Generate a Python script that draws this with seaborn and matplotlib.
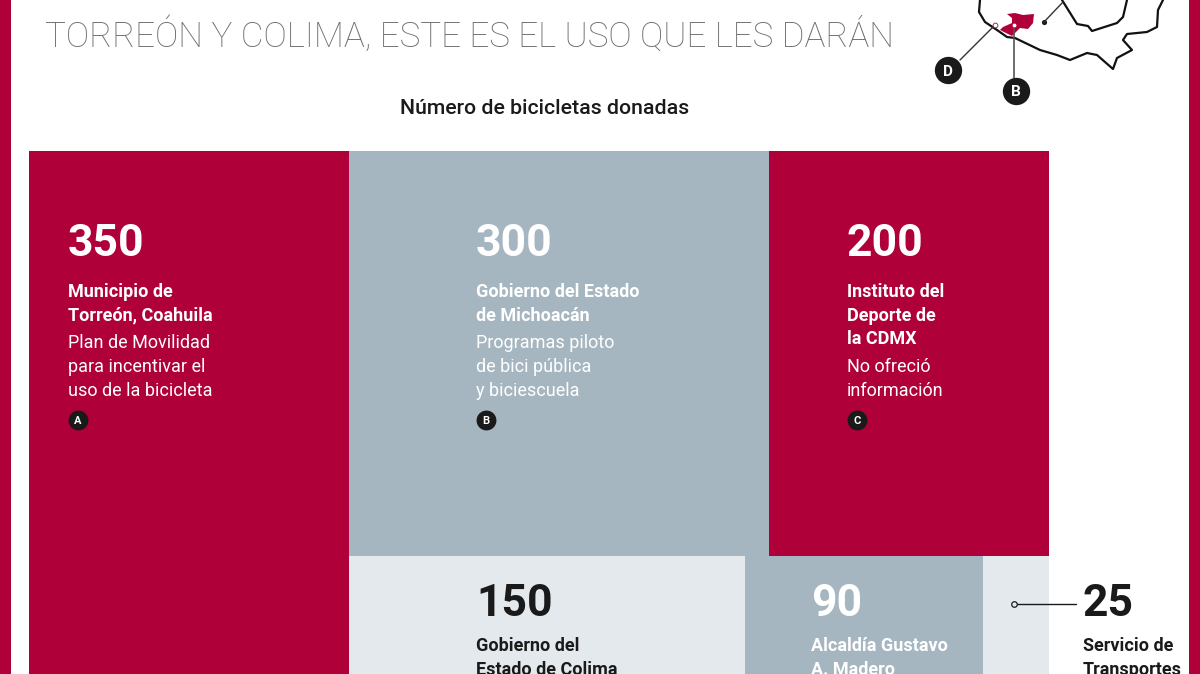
"""Bicicletas donadas: treemap recortado, con mapa de referencia."""

import matplotlib
matplotlib.use("Agg")
import matplotlib.pyplot as plt
import seaborn as sns

# datos
values = [350, 300, 200, 150, 90, 25]
bold_lines = [
    ["Municipio de", "Torreón, Coahuila"],
    ["Gobierno del Estado", "de Michoacán"],
    ["Instituto del", "Deporte de", "la CDMX"],
    ["Gobierno del", "Estado de Colima"],
    ["Alcaldía Gustavo", "A. Madero"],
    ["Servicio de", "Transportes"],
]
note_lines = [
    ["Plan de Movilidad", "para incentivar el", "uso de la bicicleta"],
    ["Programas piloto", "de bici pública", "y biciescuela"],
    ["No ofreció", "información"],
    [],
    [],
    [],
]
badges = ["A", "B", "C", None, None, None]
title_text = "TORREÓN Y COLIMA, ESTE ES EL USO QUE LES DARÁN"
subtitle_text = "Número de bicicletas donadas"

# estilo
CRIMSON = "#B0003A"
STEEL = "#A5B6C1"
PALE = "#E3E9ED"
DARK = "#1A1A1A"
cell_colors = [CRIMSON, STEEL, CRIMSON, PALE, STEEL, PALE]
text_colors = ["white", "white", "white", DARK, "white", DARK]
text_x = [68, 476, 847, 476, 811, 1083]

# marco del treemap en pixeles (sigue por debajo del recorte)
MAP_X, MAP_Y, MAP_W, MAP_H = 29, 151, 1020, 620

# mapa, trazado a mano en pixeles de la imagen
coast_x = [980, 979, 985, 997, 1007, 1015, 1040, 1057, 1070, 1087, 1097, 1113, 1117, 1132, 1123, 1127, 1147, 1157, 1158, 1163]
coast_y = [0, 12, 22, 30, 37, 38, 50, 55, 60, 53, 55, 69, 58, 50, 40, 34, 32, 27, 10, 0]
border_x = [1062, 1077, 1088, 1092, 1117, 1123, 1127]
border_y = [0, 24, 26, 31, 23, 17, 0]
state_x = [1007, 1015, 1023, 1034, 1033, 1028, 1020, 1015, 1012, 1000, 1003, 1012, 1012]
state_y = [14, 13, 15, 14, 23, 29, 28, 33, 36, 30, 27, 23, 18]


def treemap_cells(vals):
    """Columna izquierda con el mayor; dos filas con el resto."""
    total = sum(vals)
    left_w = MAP_W * vals[0] / total
    rest = total - vals[0]
    cells = [(MAP_X, MAP_Y, left_w, MAP_H)]
    row_y = MAP_Y
    for row in (vals[1:3], vals[3:]):
        row_h = MAP_H * sum(row) / rest
        x = MAP_X + left_w
        for v in row:
            w = (MAP_W - left_w) * v / sum(row)
            cells.append((x, row_y, w, row_h))
            x += w
        row_y += row_h
    return cells


def draw_badge(ax, x, y, letter, size=9):
    ax.scatter([x], [y], s=size ** 2 * 3.2, color=DARK, zorder=5, linewidths=0)
    ax.text(x, y, letter, color="white", fontsize=size, fontweight="bold",
            ha="center", va="center_baseline", zorder=6)


sns.set_theme(style="white")
plt.rcParams["font.family"] = ["Roboto", "DejaVu Sans"]

fig, ax = plt.subplots(figsize=(12, 6.74), dpi=100)
fig.subplots_adjust(left=0, right=1, bottom=0, top=1)
ax.set_xlim(0, 1200)
ax.set_ylim(674, 0)
ax.axis("off")

# bandas laterales
ax.axvspan(0, 11, color=CRIMSON, lw=0)
ax.axvspan(1189, 1200, color=CRIMSON, lw=0)

# celdas
cells = treemap_cells(values)
for (x, y, w, h), c in zip(cells, cell_colors):
    ax.bar(x, h, width=w, bottom=y, align="edge", color=c, linewidth=0)

# textos de cada celda
for i, v in enumerate(values):
    upper = i < 3
    color = text_colors[i]
    x = text_x[i]
    ax.text(x, 240 if upper else 600, str(v), color=color, fontsize=32, fontweight="bold",
            ha="left", va="center_baseline")
    y = 290 if upper else 644
    for line in bold_lines[i]:
        ax.text(x, y, line, color=color, fontsize=13, fontweight="bold",
                ha="left", va="center_baseline")
        y += 23.7
    y += 3.8
    for line in note_lines[i]:
        ax.text(x, y, line, color=color, fontsize=13, ha="left", va="center_baseline")
        y += 23.7
    if badges[i]:
        draw_badge(ax, x + 10, 420, badges[i], size=8)

# guia del 25
ax.plot([1014, 1076], [604, 604], color=DARK, lw=1, zorder=4)
ax.scatter([1014], [604], s=16, facecolor=PALE, edgecolor=DARK, linewidths=0.9, zorder=5)

# titulos
ax.text(45, 32, title_text, color="#6E6E6E", fontsize=25.2, fontweight="light",
        ha="left", va="center_baseline")
ax.text(545, 107, subtitle_text, color=DARK, fontsize=15.3, fontweight="medium",
        ha="center", va="center_baseline")

# mapa
ax.plot(coast_x, coast_y, color="#111111", lw=1.6, solid_joinstyle="round")
ax.plot(border_x, border_y, color="#111111", lw=1.6, solid_joinstyle="round")
ax.fill(state_x, state_y, color=CRIMSON, lw=0, zorder=3)
ax.plot([1044, 1063], [22, 2], color="#333333", lw=1)
ax.scatter([1044], [22], s=14, color=DARK, linewidths=0)
ax.plot([995, 960], [25, 60], color="#333333", lw=1, zorder=4)
ax.plot([1014, 1014], [25, 78], color="#555555", lw=1.2, zorder=4)
ax.scatter([995, 1014], [25, 25], s=12, facecolor="white", edgecolor=CRIMSON, linewidths=0.6, zorder=5)
draw_badge(ax, 948, 70, "D", size=11)
draw_badge(ax, 1016, 91, "B", size=11)

fig.savefig("out.png", dpi=100)
